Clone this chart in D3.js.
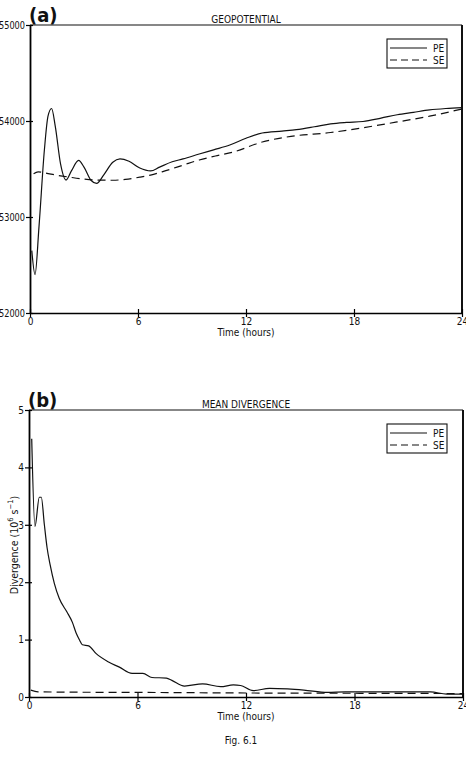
<!DOCTYPE html>
<html><head><meta charset="utf-8">
<script src="https://cdn.jsdelivr.net/npm/d3@7"></script>
<style>
body{margin:0;background:#fff;}
svg{display:block;}
text{font-family:"DejaVu Sans Condensed","DejaVu Sans",sans-serif;font-stretch:condensed;fill:#111;}
</style></head>
<body><svg id="c" width="466" height="760"></svg>
<script>
// ---- data ----
const hourTicks = [0, 6, 12, 18, 24];
const geoTicks = [52000, 53000, 54000, 55000];
const divTicks = [0, 1, 2, 3, 4, 5];
const seriesNames = ["PE", "SE"];

const geoPE_t = [0.1,0.28,0.5,0.8,1.0,1.2,1.4,1.7,2.0,2.3,2.7,3.0,3.4,3.7,4.1,4.6,5.0,5.5,6.1,6.7,7.2,7.9,8.5,9.4,10.2,11.1,12.0,12.9,14.0,14.8,15.8,16.7,17.6,18.5,19.5,20.4,21.3,22.2,23.1,24];
const geoPE_v = [52650,52400,52900,53700,54050,54130,53950,53550,53385,53480,53590,53520,53380,53350,53440,53570,53605,53580,53510,53480,53520,53575,53605,53656,53700,53750,53820,53875,53895,53910,53940,53970,53985,53995,54030,54065,54090,54115,54130,54140];

const geoSE_t = [0.2,0.45,0.8,1.5,2.2,3.0,3.7,4.6,5.3,6.1,6.7,7.5,8.5,9.4,10.3,11.3,12.9,14.5,16.7,18.5,20.4,22.2,24];
const geoSE_v = [53450,53470,53460,53435,53415,53395,53385,53383,53392,53415,53437,53480,53540,53594,53635,53677,53781,53840,53880,53930,53990,54050,54125];

const divPE_t = [0.15,0.33,0.57,0.68,0.85,1.0,1.17,1.4,1.67,2.1,2.4,2.6,2.8,2.95,3.3,3.7,4.4,5.0,5.7,6.3,6.8,7.6,7.9,8.6,9.6,10.6,11.3,11.7,12.4,13.3,14.3,15.2,16.5,17.5,19.0,20.5,22.2,23.1,24];
const divPE_v = [4.5,2.97,3.48,3.48,3.0,2.6,2.3,1.98,1.72,1.48,1.30,1.12,0.99,0.91,0.89,0.76,0.61,0.52,0.41,0.41,0.34,0.33,0.29,0.19,0.23,0.18,0.21,0.20,0.11,0.15,0.14,0.12,0.08,0.09,0.09,0.09,0.09,0.05,0.05];

const divSE_t = [0.1,0.5,2,6,12,18,24];
const divSE_v = [0.12,0.09,0.085,0.08,0.07,0.065,0.06];

// ---- drawing ----
const FONT = '"DejaVu Sans Condensed","DejaVu Sans",sans-serif';
const svg = d3.select("#c");
const zip = (t, v) => t.map((d, i) => [d, v[i]]);

function panel(o) {
  const x = d3.scaleLinear().domain([0, 24]).range([o.x0, o.x1]);
  const y = d3.scaleLinear().domain(o.ydom).range([o.y0, o.y1]);
  const g = svg.append("g");

  // frame top & right
  g.append("line").attr("x1", o.x0).attr("x2", o.x1).attr("y1", o.y1).attr("y2", o.y1)
    .attr("stroke", "#111").attr("stroke-width", 1.2);
  g.append("line").attr("x1", o.x1).attr("x2", o.x1).attr("y1", o.y1).attr("y2", o.y0)
    .attr("stroke", "#111").attr("stroke-width", 2);

  // x axis
  const xa = g.append("g").attr("transform", `translate(0,${o.y0})`)
    .call(d3.axisBottom(x).tickValues(hourTicks).tickSize(4).tickSizeOuter(0).tickPadding(1));
  xa.selectAll(".tick line").attr("y1", -4).attr("stroke-width", 1.2);
  xa.select(".domain").attr("stroke-width", 1.6);
  xa.selectAll("text").attr("font-size", 10).attr("fill", "#111").attr("font-family", FONT);

  // y axis
  const ya = g.append("g").attr("transform", `translate(${o.x0},0)`)
    .call(d3.axisLeft(y).tickValues(o.yticks).tickFormat(d3.format("d")).tickSize(4).tickSizeOuter(0).tickPadding(1));
  ya.selectAll(".tick line").attr("x1", 3).attr("stroke-width", 1.2);
  ya.select(".domain").attr("stroke-width", 1.8);
  const yt = ya.selectAll("text").attr("font-size", 10).attr("fill", "#111").attr("font-family", FONT);
  if (o.ylabLen) yt.attr("textLength", o.ylabLen).attr("lengthAdjust", "spacingAndGlyphs");

  // curves
  const line = d3.line().x(d => x(d[0])).y(d => y(d[1])).curve(d3.curveMonotoneX);
  g.append("path").datum(o.pe).attr("d", line).attr("fill", "none")
    .attr("stroke", "#111").attr("stroke-width", 1.2);
  g.append("path").datum(o.se).attr("d", line).attr("fill", "none")
    .attr("stroke", "#111").attr("stroke-width", 1.2).attr("stroke-dasharray", "8,5");

  // title
  g.append("text").attr("x", (o.x0 + o.x1) / 2).attr("y", o.y1 - 2)
    .attr("text-anchor", "middle").attr("font-size", 10).text(o.title);
  // panel letter
  g.append("text").attr("x", o.x0 - 1).attr("y", o.y1 - 3)
    .attr("font-size", 20).attr("font-weight", "bold").text(o.letter);
  // x label
  g.append("text").attr("x", (o.x0 + o.x1) / 2).attr("y", o.y0 + o.xlab)
    .attr("text-anchor", "middle").attr("font-size", 10).text("Time (hours)");

  // legend
  const L = o.leg;
  g.append("rect").attr("x", L.x).attr("y", L.y).attr("width", 60).attr("height", 29)
    .attr("fill", "#fff").attr("stroke", "#111").attr("stroke-width", 1.1);
  seriesNames.forEach((n, i) => {
    const yy = L.y + 9 + i * 12;
    g.append("line").attr("x1", L.x + 3).attr("x2", L.x + 40).attr("y1", yy).attr("y2", yy)
      .attr("stroke", "#111").attr("stroke-width", 1.1)
      .attr("stroke-dasharray", i === 1 ? "7,4" : null);
    g.append("text").attr("x", L.x + 46).attr("y", yy + 4).attr("font-size", 10).text(n);
  });
  return {x, y};
}

panel({x0: 30, x1: 462, y0: 313, y1: 25, ydom: [52000, 55000], yticks: geoTicks,
  pe: zip(geoPE_t, geoPE_v), se: zip(geoSE_t, geoSE_v), xlab: 23, ylabLen: 26,
  title: "GEOPOTENTIAL", letter: "(a)", leg: {x: 387, y: 39}});

panel({x0: 29, x1: 463, y0: 697, y1: 410, ydom: [0, 5], yticks: divTicks,
  pe: zip(divPE_t, divPE_v), se: zip(divSE_t, divSE_v), xlab: 23,
  title: "MEAN DIVERGENCE", letter: "(b)", leg: {x: 387, y: 424}});

// y label panel b
const yl = svg.append("text").attr("transform", "translate(18,545) rotate(-90)")
  .attr("text-anchor", "middle").attr("font-size", 10.5);
yl.append("tspan").text("Divergence (10");
yl.append("tspan").attr("dy", -5).attr("font-size", 7.5).text("6");
yl.append("tspan").attr("dy", 5).text(" s");
yl.append("tspan").attr("dy", -5).attr("font-size", 7.5).text("−1");
yl.append("tspan").attr("dy", 5).text(")");

// figure caption
svg.append("text").attr("x", 241).attr("y", 744).attr("text-anchor", "middle")
  .attr("font-size", 10).attr("fill", "#333").attr("font-stretch", "normal")
  .attr("font-family", '"Liberation Mono","DejaVu Sans Mono",monospace').text("Fig. 6.1");
</script></body></html>
